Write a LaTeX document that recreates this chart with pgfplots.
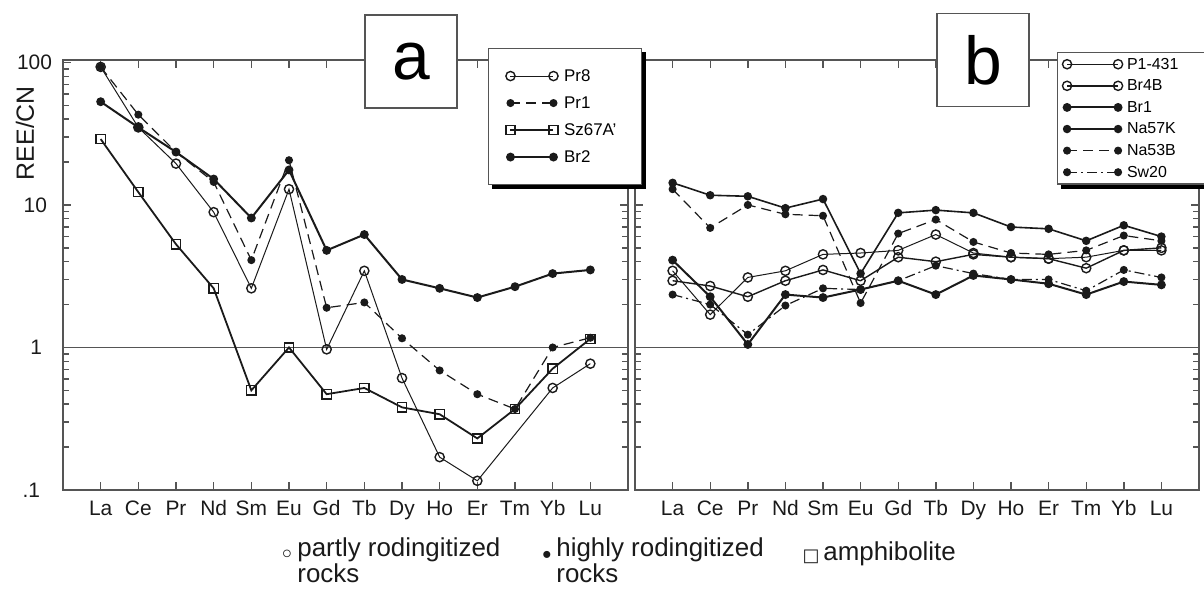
\documentclass[border=0pt]{standalone}
\usepackage{fontspec}
\setmainfont{Liberation Sans}
\newfontfamily\symfont{DejaVu Sans}
\usepackage{pgfplots}
\pgfplotsset{compat=1.18}

\definecolor{ink}{HTML}{1A1A1A}
\definecolor{frame}{HTML}{555555}

\pgfplotsset{
  every axis/.append style={
    scale only axis, height=215bp,
    xmin=-1, xmax=14, clip=false,
    xtick={0,...,13},
    xticklabels={La,Ce,Pr,Nd,Sm,Eu,Gd,Tb,Dy,Ho,Er,Tm,Yb,Lu},
    tick align=inside, major tick length=4bp, minor tick length=3bp,
    axis line style={draw=frame, line width=0.8bp},
    tick style={draw=frame, line width=0.7bp},
    tick label style={font=\fontsize{10.5}{12}\selectfont, text=ink},
    xticklabel style={yshift=-1.5bp, text height=7.7bp, text depth=2bp},
    yticklabel style={xshift=-2bp},
    legend cell align=left,
  },
  thinline/.style={ink, line width=0.5bp},
  fullline/.style={ink, line width=0.9bp},
  dashline/.style={ink, line width=0.6bp, dash pattern=on 5bp off 3bp},
  dotdashline/.style={ink, line width=0.6bp, dash pattern=on 5bp off 2bp on 1bp off 2bp},
  opencirc/.style={mark=o, mark size=2.3bp, mark options={solid, fill=white, line width=0.7bp}},
  dotmark/.style={mark=*, mark size=1.7bp, mark options={solid, fill=ink}},
  opensq/.style={mark=square, mark size=2.3bp, mark options={solid, fill=white, line width=0.7bp}},
}

\begin{document}
\begin{tikzpicture}
\path[use as bounding box] (-31.5bp,-51.5bp) rectangle (570.5bp,245bp);

% panel b first, so that the legend of panel a lies over it
\begin{semilogyaxis}[at={(286bp,0bp)}, anchor=south west, width=282bp,
  ymin=0.1, ymax=104,
  ytick={0.1,1,10,100}, yticklabels={},
  minor ytick={0.2,0.3,0.4,0.5,0.6,0.7,0.8,0.9,2,3,4,5,6,7,8,9,20,30,40,50,60,70,80,90},
  legend image code/.code={\draw[#1] plot coordinates {(0bp,0bp) (25.5bp,0bp)};},
  legend style={name=legB, at={(0.748,1.019)}, anchor=north west, draw=frame, fill=white,
    line width=0.6bp, font=\fontsize{8}{8.5}\selectfont,
    inner xsep=2.5bp, inner ysep=1.5bp, row sep=2bp,
    nodes={inner sep=0.5bp, text height=6.3bp, text depth=1.5bp},
    /tikz/every odd column/.append style={column sep=1.7bp},
    /tikz/every even column/.append style={nodes={text width=45bp}}},
]
\addplot[frame, line width=0.8bp, forget plot] coordinates {(-1,1) (14,1)};
% P1-431
\addplot[thinline, opencirc] coordinates {
  (0,3.45) (1,1.7) (2,3.1) (3,3.45) (4,4.5) (5,4.6) (6,4.8)
  (7,6.2) (8,4.6) (9,4.3) (10,4.2) (11,4.3) (12,4.8) (13,4.8)};
% Br4B
\addplot[ink, line width=0.7bp, opencirc] coordinates {
  (0,2.94) (1,2.7) (2,2.27) (3,2.94) (4,3.5) (5,2.94) (6,4.3)
  (7,4.0) (8,4.5) (9,4.3) (10,4.2) (11,3.6) (12,4.8) (13,5.0)};
% Br1
\addplot[ink, line width=1.0bp, dotmark] coordinates {
  (0,4.1) (1,2.27) (2,1.05) (3,2.35) (4,2.24) (5,2.55) (6,2.94)
  (7,2.35) (8,3.2) (9,3.0) (10,2.8) (11,2.35) (12,2.9) (13,2.75)};
% Na57K
\addplot[ink, line width=0.8bp, dotmark] coordinates {
  (0,14.3) (1,11.7) (2,11.5) (3,9.5) (4,11) (5,3.3) (6,8.8)
  (7,9.2) (8,8.8) (9,7.0) (10,6.8) (11,5.6) (12,7.2) (13,6.0)};
% Na53B
\addplot[dashline, dotmark] coordinates {
  (0,12.9) (1,6.9) (2,10) (3,8.6) (4,8.4) (5,2.05) (6,6.3)
  (7,7.9) (8,5.5) (9,4.6) (10,4.5) (11,4.8) (12,6.1) (13,5.6)};
% Sw20
\addplot[dotdashline, dotmark] coordinates {
  (0,2.35) (1,2.0) (2,1.23) (3,1.97) (4,2.6) (5,2.55) (6,2.94)
  (7,3.75) (8,3.3) (9,3.0) (10,3.0) (11,2.5) (12,3.5) (13,3.1)};
\legend{P1-431, Br4B, Br1, Na57K, Na53B, Sw20}
\node[draw=frame, fill=white, line width=0.6bp, minimum width=46bp, minimum height=46.5bp,
  inner sep=0pt, font=\fontsize{34}{34}\selectfont] at (rel axis cs:0.617,1.0) {b};
\end{semilogyaxis}
% shadow of legend b
\fill[black] ([yshift=-2bp]legB.north east) rectangle ([xshift=2bp,yshift=-2bp]legB.south east);
\fill[black] ([xshift=2bp]legB.south west) rectangle ([xshift=2bp,yshift=-2bp]legB.south east);

\begin{semilogyaxis}[at={(0bp,0bp)}, anchor=south west, width=282.5bp,
  ymin=0.1, ymax=104,
  ytick={0.1,1,10,100}, yticklabels={.1\kern6bp,1\kern5bp,10\kern2.5bp,100},
  minor ytick={0.2,0.3,0.4,0.5,0.6,0.7,0.8,0.9,2,3,4,5,6,7,8,9,20,30,40,50,60,70,80,90},
  legend image code/.code={\draw[#1] plot coordinates {(0bp,0bp) (21.5bp,0bp)};},
  legend style={name=legA, at={(0.752,1.028)}, anchor=north west, draw=frame, fill=white,
    line width=0.6bp, font=\fontsize{8.5}{9}\selectfont,
    inner xsep=8.7bp, inner ysep=8.5bp, row sep=3bp,
    nodes={inner sep=1bp, text height=7bp, text depth=1.5bp},
    /tikz/every odd column/.append style={column sep=2bp},
    /tikz/every even column/.append style={nodes={text width=29bp}}},
]
\addplot[frame, line width=0.8bp, forget plot] coordinates {(-1,1) (14,1)};
% Pr8 (no Tm value)
\addplot[thinline, opencirc] coordinates {
  (0,93) (1,35) (2,19.5) (3,8.9) (4,2.6) (5,12.9) (6,0.97)
  (7,3.45) (8,0.61) (9,0.17) (10,0.116) (12,0.52) (13,0.77)};
% Pr1
\addplot[dashline, dotmark] coordinates {
  (0,93) (1,43) (2,23.5) (3,14.5) (4,4.1) (5,20.6) (6,1.9)
  (7,2.07) (8,1.16) (9,0.69) (10,0.47) (11,0.37) (12,1.0) (13,1.17)};
% Sz67A'
\addplot[fullline, opensq] coordinates {
  (0,29) (1,12.3) (2,5.3) (3,2.6) (4,0.50) (5,1.0) (6,0.47)
  (7,0.52) (8,0.38) (9,0.34) (10,0.23) (11,0.37) (12,0.71) (13,1.15)};
% Br2
\addplot[ink, line width=1.0bp, dotmark] coordinates {
  (0,53) (1,35) (2,23.5) (3,15.2) (4,8.1) (5,17.6) (6,4.8)
  (7,6.2) (8,3.0) (9,2.6) (10,2.24) (11,2.67) (12,3.3) (13,3.5)};
\legend{Pr8, Pr1, Sz67A', Br2}
\node[draw=frame, fill=white, line width=0.6bp, minimum width=46bp, minimum height=46.5bp,
  inner sep=0pt, font=\fontsize{34}{34}\selectfont] at (rel axis cs:0.616,0.9965) {a};
\node[rotate=90, font=\fontsize{12.5}{14}\selectfont, text=ink] at (rel axis cs:-0.0673,0.83) {REE/CN};
\end{semilogyaxis}
% shadow of legend a
\fill[black] ([yshift=-2bp]legA.north east) rectangle ([xshift=2bp,yshift=-2bp]legA.south east);
\fill[black] ([xshift=2bp]legA.south west) rectangle ([xshift=2bp,yshift=-2bp]legA.south east);

% key of rock types under the panels
\begin{scope}[font=\fontsize{13}{13}\selectfont, text=ink]
\node[inner sep=0pt] at (112bp,-33.5bp) {{\symfont ◦}};
\node[anchor=base west, inner sep=0pt] at (117bp,-33bp) {partly rodingitized};
\node[anchor=base west, inner sep=0pt] at (117bp,-46bp) {rocks};
\node[inner sep=0pt] at (242bp,-33.5bp) {•};
\node[anchor=base west, inner sep=0pt] at (246.5bp,-33bp) {highly rodingitized};
\node[anchor=base west, inner sep=0pt] at (246.5bp,-46bp) {rocks};
\node[inner sep=0pt, font=\fontsize{9}{9}\selectfont] at (374bp,-33.5bp) {{\symfont □}};
\node[anchor=base west, inner sep=0pt] at (380bp,-35bp) {amphibolite};
\end{scope}
\end{tikzpicture}
\end{document}
